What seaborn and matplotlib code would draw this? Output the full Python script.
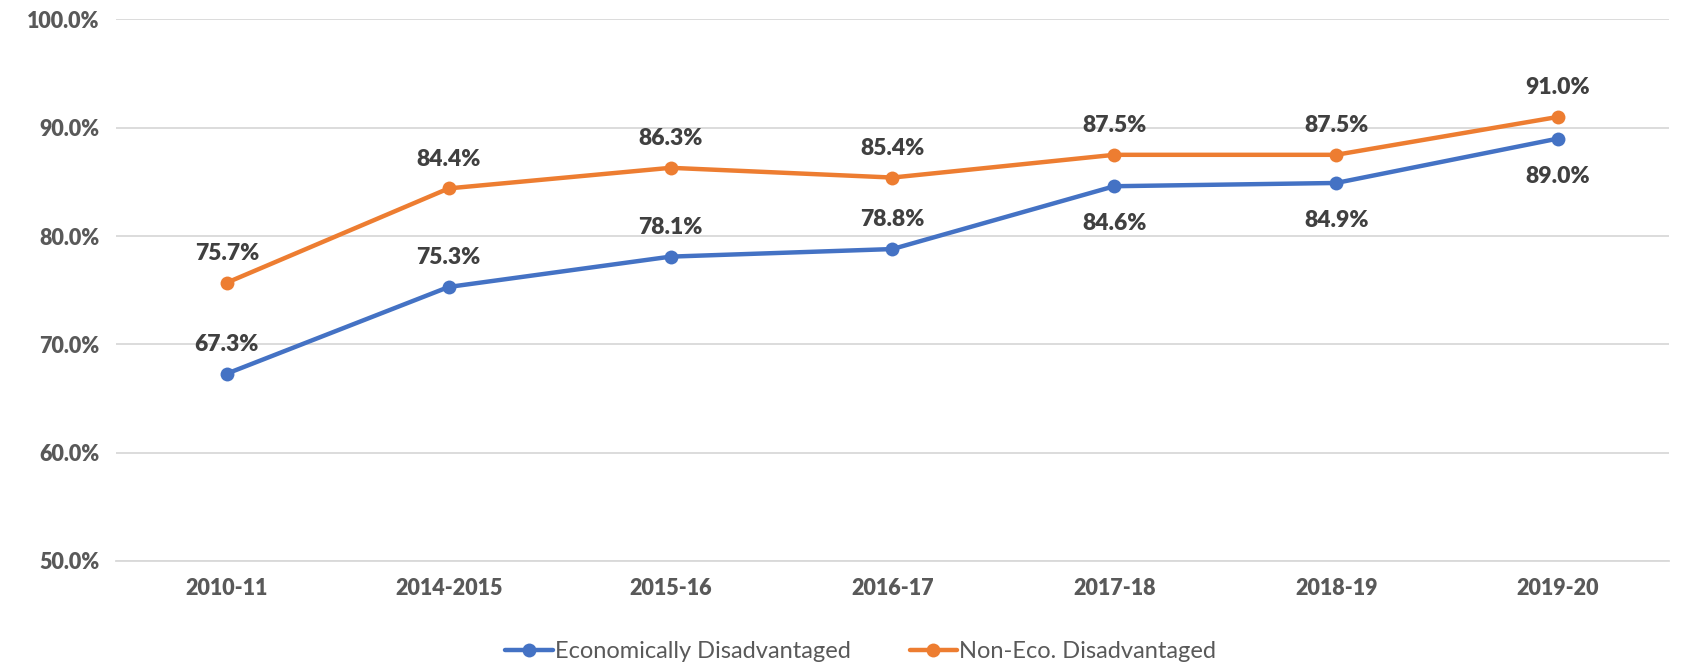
import matplotlib
matplotlib.use("Agg")
import matplotlib.pyplot as plt
import pandas as pd
import seaborn as sns

years = ['2010-11', '2014-2015', '2015-16', '2016-17', '2017-18', '2018-19', '2019-20']
eco_dis = [67.3, 75.3, 78.1, 78.8, 84.6, 84.9, 89.0]
non_eco = [75.7, 84.4, 86.3, 85.4, 87.5, 87.5, 91.0]
series = ['Economically Disadvantaged', 'Non-Eco. Disadvantaged']
colors = ['#4472C4', '#ED7D31']
# where each label sits relative to its point (1 above, -1 below)
eco_side = [1, 1, 1, 1, -1, -1, -1]
non_side = [1, 1, 1, 1, 1, 1, 1]

df = pd.DataFrame({
    'Year': years * 2,
    'Value': eco_dis + non_eco,
    'Group': [series[0]] * len(years) + [series[1]] * len(years),
})

sns.set_theme(style='white')
plt.rcParams['font.family'] = ['Lato', 'DejaVu Sans']

fig = plt.figure(figsize=(16.88, 6.65), dpi=100)
ax = fig.add_axes([0.0687, 0.1564, 0.92, 0.8144])

sns.lineplot(data=df, x='Year', y='Value', hue='Group', palette=colors,
             marker='o', markersize=10, markeredgewidth=0, linewidth=3.2,
             sort=False, ax=ax, legend=True)

for vals, sides in [(eco_dis, eco_side), (non_eco, non_side)]:
    for i, (v, s) in enumerate(zip(vals, sides)):
        ax.annotate(f'{v:.1f}%', (i, v), xytext=(0, 21 if s > 0 else -27),
                    textcoords='offset points', ha='center', va='center',
                    fontsize=16.5, fontweight='heavy', color='#404040')

ax.set_ylim(50, 100)
ax.set_xlim(-0.5, len(years) - 0.5)
ax.set_yticks(range(50, 101, 10))
ax.set_yticklabels([f'{t:.1f}%' for t in range(50, 101, 10)])
ax.yaxis.grid(True, color='#D9D9D9', linewidth=1.3)
ax.set_axisbelow(True)
ax.set_xlabel('')
ax.set_ylabel('')
for sp in ['top', 'right', 'left']:
    ax.spines[sp].set_visible(False)
ax.spines['bottom'].set_color('#D9D9D9')
ax.spines['bottom'].set_linewidth(1.3)
ax.tick_params(axis='both', length=0, labelsize=15.5, labelcolor='#595959', pad=12)
for lab in ax.get_xticklabels() + ax.get_yticklabels():
    lab.set_fontweight('heavy')

leg = ax.legend(loc='center', bbox_to_anchor=(0.51, 0.02), bbox_transform=fig.transFigure,
                ncol=2, frameon=False, fontsize=17, handlelength=2.0, columnspacing=2.5,
                handletextpad=0.1, borderpad=0)
for t in leg.get_texts():
    t.set_color('#595959')

fig.savefig('out.png', dpi=100)
